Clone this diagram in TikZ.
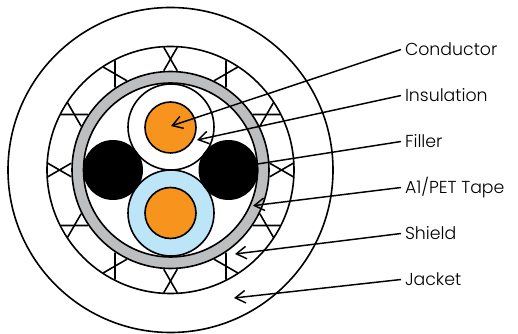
\documentclass[tikz,border=0pt]{standalone}
\usepackage{fontspec}
\setmainfont{Poppins}[UprightFont=* Light]
\usetikzlibrary{arrows.meta,positioning}
\definecolor{cablegray}{HTML}{BCBEC0}
\definecolor{cableorange}{HTML}{F7941E}
\definecolor{cableblue}{HTML}{BDE5F8}
\tikzset{
  ring/.style={draw=black,line width=1.2pt},
  lbl/.style={inner xsep=0pt,inner ysep=0pt,outer xsep=3pt,outer ysep=0pt,text height=9pt,text depth=0pt,font=\fontsize{13}{15}\selectfont},
  ar/.style={-{Straight Barb[length=7.5pt,width=9.4pt]},draw=black,line width=1.1pt},
}
\begin{document}
\begin{tikzpicture}[x=0.75pt,y=-0.75pt]
  \useasboundingbox (0,0) rectangle (518,334);
  \coordinate (center) at (170.5,170);
  \draw[ring,fill=white] (center) circle[radius=162.5];
  \draw[ring,fill=white] (center) circle[radius=123.5];
  \foreach \ang in {0,30,...,330}{
    \begin{scope}[shift={(center)},rotate=\ang]
      \draw[ring] (99.3,-6.75) -- (122.7,6.75);
      \draw[ring] (99.3,6.75) -- (122.7,-6.75);
    \end{scope}
  }
  \draw[ring,fill=cablegray] (center) circle[radius=98.5];
  \draw[ring,fill=white] (center) circle[radius=87];
  \draw[ring,fill=white] (171,127) circle[radius=43];
  \draw[ring,fill=cableorange] (170.5,127.5) circle[radius=25.5];
  \draw[ring,fill=cableblue] (171,213) circle[radius=43];
  \draw[ring,fill=cableorange] (170.5,213) circle[radius=25.5];
  \fill[black] (113,170) circle[radius=30];
  \fill[black] (228.5,170) circle[radius=30];
  \node[lbl,anchor=west] (conductor) at (401,49.5) {Conductor};
  \node[lbl,below=34.5pt of conductor.west,anchor=west] (insulation) {Insulation};
  \node[lbl,below=34.5pt of insulation.west,anchor=west] (filler) {Filler};
  \node[lbl,below=34.5pt of filler.west,anchor=west] (tape) {A1/PET Tape};
  \node[lbl,below=34.5pt of tape.west,anchor=west] (shield) {Shield};
  \node[lbl,below=34.5pt of shield.west,anchor=west] (jacket) {Jacket};
  \coordinate (conductortip) at (171,126);
  \coordinate (insulationtip) at (197,140);
  \coordinate (fillertip) at (232,168);
  \coordinate (tapetip) at (253,205.7);
  \coordinate (shieldtip) at (235,254);
  \coordinate (jackettip) at (234,298);
  \draw[ar] (conductor.west) -- (conductortip);
  \draw[ar] (insulation.west) -- (insulationtip);
  \draw[ar] (filler.west) -- (fillertip);
  \draw[ar] (tape.west) -- (tapetip);
  \draw[ar] (shield.west) -- (shieldtip);
  \draw[ar] (jacket.west) -- (jackettip);
\end{tikzpicture}
\end{document}
